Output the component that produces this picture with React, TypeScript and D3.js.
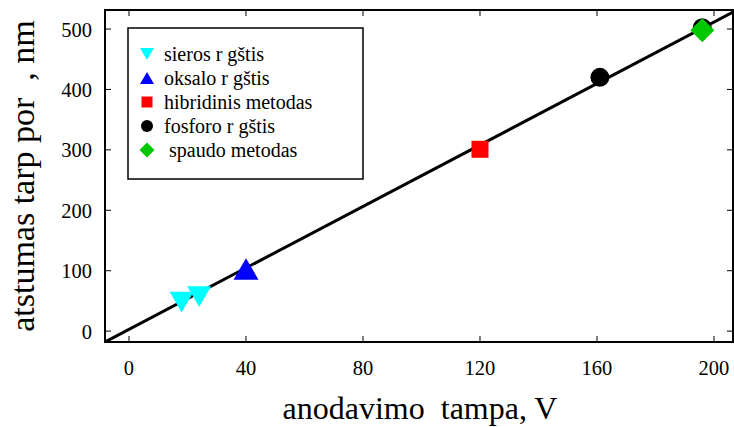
import React from "react";
import * as d3 from "d3";

const xTicks = [0, 40, 80, 120, 160, 200];
const yTicks = [0, 100, 200, 300, 400, 500];

const sierosX = [18, 24];
const sierosY = [48, 57];
const oksaloX = [40];
const oksaloY = [103];
const hibridX = [120];
const hibridY = [301];
const fosforoX = [161, 196];
const fosforoY = [420, 502];
const spaudoX = [196];
const spaudoY = [498];
const fitX = [-8.2, 206.5];
const fitY = [-18, 528];

const legendLabels = ["sieros r gštis", "oksalo r gštis", "hibridinis metodas", "fosforo r gštis", " spaudo metodas"];

const W = 734, H = 427;
const left = 105, right = 733, top = 10, bottom = 342;

export default function App() {
  const x = d3.scaleLinear().domain([-8.2, 206.5]).range([left, right]);
  const y = d3.scaleLinear().domain([-18, 531.5]).range([bottom, top]);
  const font = "'Liberation Serif', 'Times New Roman', serif";
  const triDown = (s: number) => `M${-s / 2},${-s * 0.43}L${s / 2},${-s * 0.43}L0,${s * 0.43}Z`;
  const triUp = (s: number) => `M${-s / 2},${s * 0.43}L${s / 2},${s * 0.43}L0,${-s * 0.43}Z`;
  const diamond = (s: number) => `M0,${-s / 2}L${s / 2},0L0,${s / 2}L${-s / 2},0Z`;
  const line = d3.line<number>().x((d, i) => x(fitX[i])).y((d, i) => y(fitY[i]));

  const legendMarks = [
    <path d={triDown(14)} fill="#00ffff" />,
    <path d={triUp(14)} fill="#0000ff" />,
    <rect x={-5.5} y={-5.5} width={11} height={11} fill="#ff0000" />,
    <circle r={6} fill="#000" />,
    <path d={diamond(15)} fill="#00c800" />,
  ];

  return (
    <svg width={W} height={H} style={{ position: "absolute", left: 0, top: 0, background: "#fff" }} fontFamily={font}>
      <defs>
        <clipPath id="plot"><rect x={left} y={top} width={right - left} height={bottom - top} /></clipPath>
      </defs>
      {xTicks.map((t) => (
        <g key={"x" + t}>
          <line x1={x(t)} x2={x(t)} y1={bottom} y2={bottom - 6} stroke="#000" strokeWidth={1} />
          <line x1={x(t)} x2={x(t)} y1={top} y2={top + 6} stroke="#000" strokeWidth={1} />
          <text x={x(t)} y={375} fontSize={20.5} textAnchor="middle">{t}</text>
        </g>
      ))}
      {yTicks.map((t) => (
        <g key={"y" + t}>
          <line x1={left} x2={left + 6} y1={y(t)} y2={y(t)} stroke="#000" strokeWidth={1} />
          <line x1={right} x2={right - 6} y1={y(t)} y2={y(t)} stroke="#000" strokeWidth={1} />
          <text x={92} y={y(t) + 7.5} fontSize={20.5} textAnchor="end">{t}</text>
        </g>
      ))}
      <path d={line([0, 1]) || ""} stroke="#000" strokeWidth={3} fill="none" clipPath="url(#plot)" />
      <g>
        {fosforoX.map((v, i) => (
          <circle key={"f" + i} cx={x(v)} cy={y(fosforoY[i])} r={9.5} fill="#000" />
        ))}
        {sierosX.map((v, i) => (
          <path key={"s" + i} transform={`translate(${x(v)},${y(sierosY[i])})`} d={triDown(24)} fill="#00ffff" />
        ))}
        {oksaloX.map((v, i) => (
          <path key={"o" + i} transform={`translate(${x(v)},${y(oksaloY[i])})`} d={triUp(25)} fill="#0000ff" />
        ))}
        {hibridX.map((v, i) => (
          <rect key={"h" + i} x={x(v) - 8.5} y={y(hibridY[i]) - 8.5} width={17} height={17} fill="#ff0000" />
        ))}
        {spaudoX.map((v, i) => (
          <path key={"p" + i} transform={`translate(${x(v)},${y(spaudoY[i])})`} d={diamond(24)} fill="#00c800" />
        ))}
      </g>
      <rect x={left} y={top} width={right - left} height={bottom - top} fill="none" stroke="#000" strokeWidth={2} />
      <rect x={128} y={28} width={235} height={151} fill="#fff" stroke="#000" strokeWidth={1.5} />
      {legendLabels.map((l, i) => (
        <g key={l} transform={`translate(0,${54 + i * 24})`}>
          <g transform="translate(147,0)">{legendMarks[i]}</g>
          <text x={164} y={7} fontSize={20} style={{ whiteSpace: "pre" }}>{l}</text>
        </g>
      ))}
      <text x={420} y={419} fontSize={32} textAnchor="middle" style={{ whiteSpace: "pre" }}>anodavimo  tampa, V</text>
      <text transform={`translate(34,176) rotate(-90)`} fontSize={34} textAnchor="middle" style={{ whiteSpace: "pre" }}>atstumas tarp por  , nm</text>
    </svg>
  );
}
